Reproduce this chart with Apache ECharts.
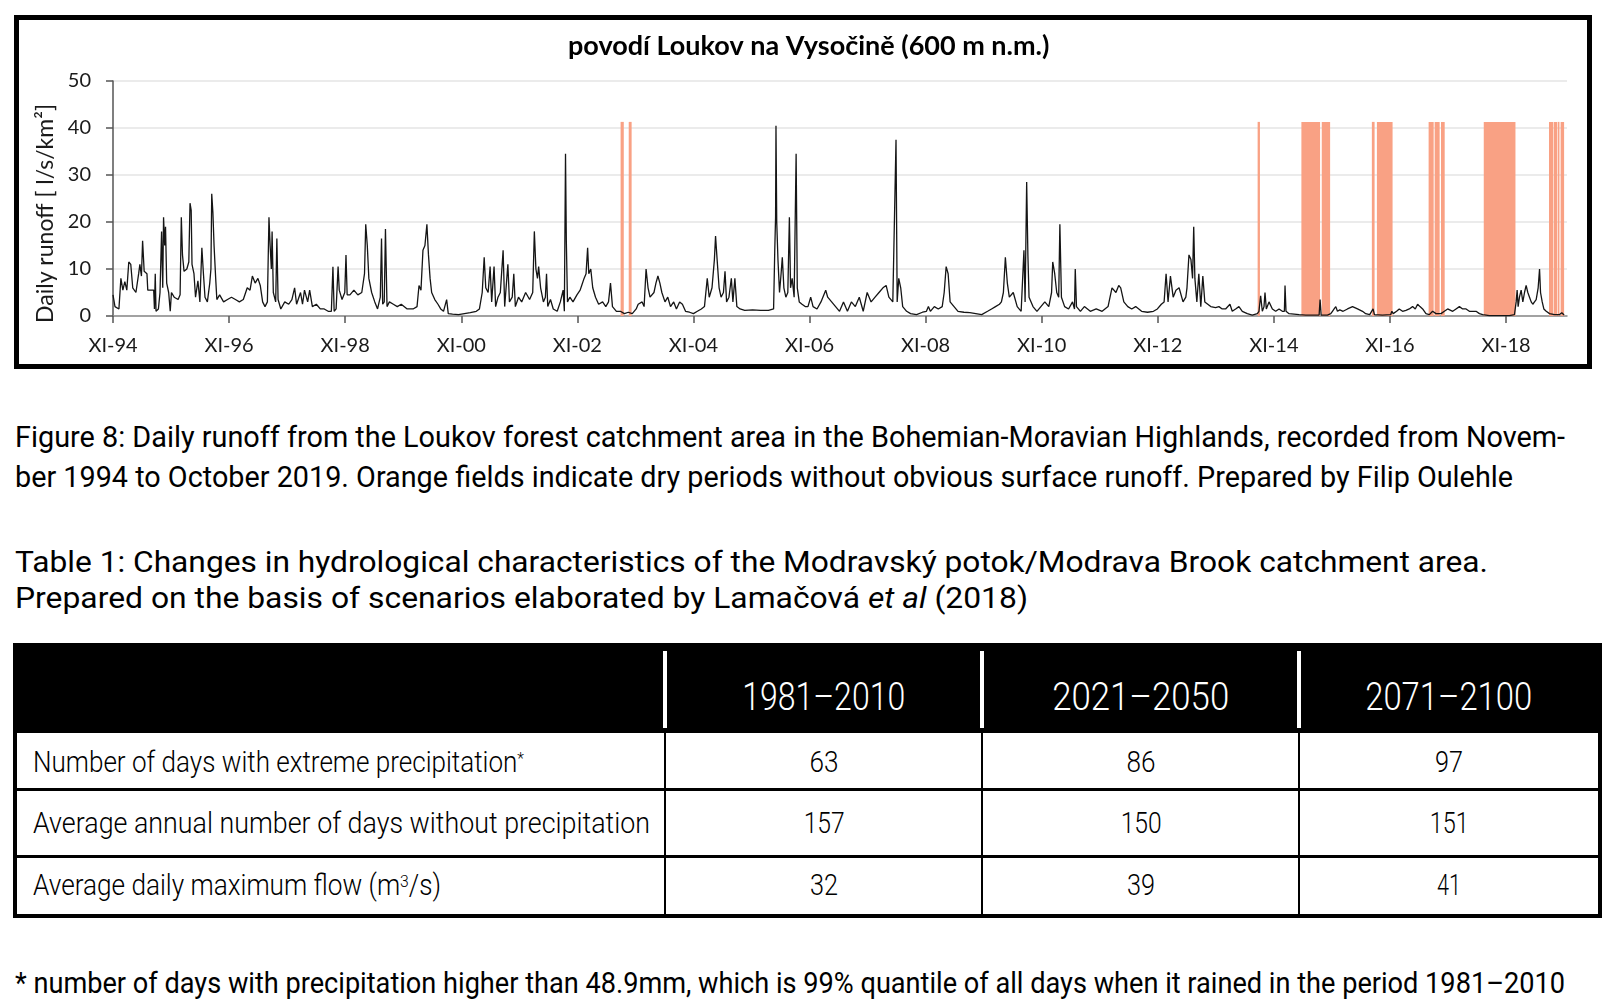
<!DOCTYPE html>
<html><head><meta charset="utf-8">
<script src="https://cdn.jsdelivr.net/npm/echarts@6/dist/echarts.min.js"></script>
<style>
html,body{margin:0;padding:0;background:#fff;}
body{width:1612px;height:1001px;position:relative;overflow:hidden;font-family:Roboto,sans-serif;color:#000;}
#frame{position:absolute;left:14px;top:15px;width:1578px;height:354px;border:5px solid #000;box-sizing:border-box;}
#chart{position:absolute;left:0;top:0;width:1568px;height:344px;}
.t{position:absolute;white-space:nowrap;line-height:40px;height:40px;display:inline-block;}
.cap{font-family:Roboto,sans-serif;font-size:29px;font-weight:400;}
.tcell{font-family:Roboto,sans-serif;font-size:29px;font-weight:300;}
.hcell{font-family:Roboto,sans-serif;font-size:38px;font-weight:300;color:#fff;line-height:50px;height:50px;}
.blk{position:absolute;background:#000;}
.wht{position:absolute;background:#fff;}
sup{font-size:60%;vertical-align:top;position:relative;top:-4px;}
</style></head>
<body>
<div id="frame"><div id="chart"></div></div>

<div class="t cap" style="left:15px;top:417px" data-w="1550" id="figL1"></div>
<div class="t cap" style="left:15px;top:457px" data-w="1498" id="figL2"></div>
<div class="t cap" style="left:15px;top:542px" data-w="1473" id="tabL1"></div>
<div class="t cap" style="left:15px;top:578px" data-w="1013" id="tabL2"></div>
<div id="table"></div>
<div class="t cap" style="left:15px;top:963px" data-w="1550" id="foot"></div>

<script>
// ---------- chart data (years since XI-1994, daily runoff l/s/km2) ----------
const xTickValues = [0, 2, 4, 6, 8, 10, 12, 14, 16, 18, 20, 22, 24];
const xTickLabels = ['XI-94','XI-96','XI-98','XI-00','XI-02','XI-04','XI-06','XI-08','XI-10','XI-12','XI-14','XI-16','XI-18'];

const runoff1994_1999 = [[0,4.5],[0.034,2],[0.102,1.5],[0.136,8],[0.17,5.5],[0.204,7.3],[0.238,5.5],[0.272,11.5],[0.306,11],[0.34,6],[0.395,5],[0.442,9],[0.463,11],[0.49,8.5],[0.51,16],[0.537,9.5],[0.585,9],[0.599,5.5],[0.701,5.5],[0.714,1.5],[0.728,9],[0.741,1],[0.782,1.5],[0.81,5],[0.837,18],[0.857,6],[0.871,21],[0.891,15],[0.905,19],[0.925,7],[0.959,5],[0.986,1],[1.007,5],[1.054,4],[1.122,3.5],[1.156,4.5],[1.177,21],[1.197,13],[1.224,9.5],[1.272,10],[1.306,11.5],[1.327,24],[1.347,22.5],[1.361,11],[1.395,9],[1.422,4],[1.463,7.5],[1.497,3],[1.531,14.5],[1.558,9],[1.585,4],[1.626,3],[1.667,7],[1.687,10],[1.701,26],[1.721,22],[1.741,15],[1.769,8],[1.789,3.5],[1.837,4.5],[1.905,3],[1.973,3.5],[2.041,4],[2.109,3.5],[2.177,3],[2.245,3.5],[2.313,6],[2.361,5.5],[2.401,8.5],[2.449,7],[2.497,8],[2.537,6.5],[2.578,3],[2.619,2],[2.66,3],[2.687,21],[2.707,15],[2.728,10],[2.741,18],[2.762,5],[2.803,3],[2.823,16.5],[2.844,3.5],[2.891,1.5],[2.959,3],[3.027,2.5],[3.082,3.5],[3.129,6],[3.163,2.5],[3.231,5],[3.265,2.5],[3.299,5.5],[3.354,3],[3.388,5.5],[3.435,2],[3.503,2.5],[3.571,1.5],[3.639,1.5],[3.707,1],[3.762,1],[3.789,10.5],[3.81,1],[3.844,1.5],[3.878,10.5],[3.898,5.5],[3.946,3.5],[3.993,5],[4.014,13],[4.034,4.5],[4.082,4.5],[4.15,5.5],[4.218,4.5],[4.286,5],[4.333,9],[4.354,19.5],[4.381,15],[4.408,8],[4.456,5],[4.51,3],[4.558,1.5],[4.605,4],[4.626,16.5],[4.646,2.5],[4.673,3],[4.694,18.5],[4.721,2],[4.762,3],[4.83,2.5],[4.898,2],[4.966,2.5]];

const runoff1999_2004 = [[5.068,1.5],[5.17,1.5],[5.238,2],[5.272,6.5],[5.306,5.5],[5.34,14],[5.374,15],[5.408,19.5],[5.435,13],[5.463,8],[5.49,5],[5.544,3.5],[5.599,2.5],[5.646,1.5],[5.694,1],[5.748,3.5],[5.776,0.5],[5.85,0.4],[5.952,0.3],[6.054,0.5],[6.156,0.7],[6.259,1],[6.313,1.5],[6.361,5],[6.395,12.5],[6.422,6],[6.463,5],[6.497,10.5],[6.524,3],[6.565,10.5],[6.592,2],[6.633,4],[6.673,5],[6.721,14],[6.748,2],[6.803,11],[6.83,3],[6.878,4],[6.905,9],[6.932,2],[6.986,4],[7.041,3],[7.109,5],[7.177,3.5],[7.231,5],[7.259,18],[7.286,10],[7.313,8],[7.333,10.5],[7.367,6],[7.415,3],[7.449,4],[7.469,9],[7.49,2],[7.537,3.5],[7.585,1.5],[7.653,1],[7.707,3],[7.755,5.5],[7.776,1],[7.796,34.5],[7.81,16],[7.83,3],[7.871,4],[7.925,3],[7.993,4.5],[8.048,5.5],[8.075,6.5],[8.116,8],[8.15,9],[8.177,14.5],[8.197,9],[8.231,10],[8.265,6],[8.313,4],[8.367,2.5],[8.435,3],[8.49,2],[8.537,3],[8.571,7],[8.605,2],[8.673,1],[8.741,1],[8.81,0.5],[8.878,0.8],[8.946,0.5],[9.014,1.5],[9.048,2.5],[9.116,3],[9.15,2],[9.184,10],[9.218,6],[9.252,4],[9.32,5],[9.354,7],[9.388,8.5],[9.422,7],[9.456,5],[9.51,3],[9.558,4],[9.605,2],[9.66,3],[9.707,1.5],[9.762,3],[9.81,2.5],[9.864,1],[9.932,0.8]];

const runoff2004_2009 = [[10,0.5],[10.068,1],[10.136,1.5],[10.19,2],[10.238,8],[10.272,4],[10.32,6],[10.361,12],[10.381,17],[10.408,12],[10.442,6],[10.476,4],[10.517,5],[10.544,9.5],[10.571,3],[10.612,4],[10.653,8],[10.68,3],[10.714,8],[10.748,2],[10.803,1.5],[10.884,1.2],[11.02,1.3],[11.156,1.2],[11.293,1.2],[11.381,1.5],[11.401,14],[11.415,21],[11.422,40.5],[11.435,20],[11.456,12],[11.483,5],[11.51,9],[11.531,12.5],[11.558,6],[11.592,4],[11.626,5],[11.653,21],[11.673,6],[11.701,8],[11.735,4],[11.769,34.5],[11.789,6],[11.823,3],[11.871,2.5],[11.925,2],[11.973,2],[12.02,4],[12.061,2],[12.129,1.5],[12.197,3],[12.279,5.5],[12.313,4],[12.381,3],[12.449,2],[12.517,1],[12.585,3],[12.653,1],[12.721,3],[12.789,2],[12.857,4],[12.925,1],[12.993,5],[13.061,3],[13.129,4],[13.197,5],[13.265,6],[13.32,6.5],[13.367,4],[13.435,3],[13.469,3],[13.49,37.5],[13.51,3],[13.537,8],[13.571,6],[13.605,2],[13.673,1],[13.741,0.5],[13.844,0.3],[13.946,0.8],[14.014,1],[14.048,2],[14.082,1],[14.15,2],[14.218,1.5],[14.286,2],[14.32,5],[14.354,10.5],[14.388,9],[14.422,3],[14.49,2],[14.558,1],[14.66,0.8],[14.762,0.7],[14.864,0.5],[14.966,0.3]];

const runoff2009_2014 = [[15.068,1],[15.136,1.5],[15.204,2],[15.272,2.5],[15.306,3],[15.34,5],[15.374,12.5],[15.408,7],[15.442,4],[15.51,5],[15.578,2],[15.646,1],[15.694,14],[15.714,3],[15.741,28.5],[15.762,13],[15.782,4],[15.85,2],[15.918,1],[15.986,2],[16.054,3],[16.122,2],[16.17,5],[16.19,11.5],[16.224,9],[16.259,5],[16.293,4],[16.313,19.5],[16.34,4],[16.395,2],[16.463,1.5],[16.531,3],[16.565,1.5],[16.578,10],[16.599,2],[16.667,1],[16.735,2],[16.837,1],[16.939,1.5],[17.041,1],[17.143,2],[17.211,6],[17.279,5],[17.327,6.5],[17.361,6],[17.415,3],[17.483,2],[17.551,1.5],[17.619,2],[17.721,1],[17.823,0.8],[17.925,1],[17.993,1.5],[18.061,2.5],[18.109,3],[18.143,9],[18.177,3],[18.218,8.5],[18.265,4],[18.313,5.5],[18.367,6],[18.435,3],[18.483,4],[18.503,6],[18.537,13],[18.571,12],[18.599,8],[18.619,19],[18.639,8],[18.673,3],[18.707,9],[18.741,2],[18.776,8.5],[18.81,3],[18.844,3],[18.912,2],[18.995,1.8],[19.053,2],[19.11,1.5],[19.168,1.5],[19.243,2.5],[19.283,1],[19.341,1.5],[19.398,2],[19.456,1],[19.542,0.5],[19.628,0.2],[19.715,0.5],[19.743,1],[19.772,4.3],[19.801,1],[19.83,2],[19.847,5],[19.87,1.5],[19.916,3],[19.974,1.5]];

const runoff2014_2019 = [[20.031,1],[20.089,1.5],[20.146,1],[20.181,1],[20.192,6.5],[20.209,1],[20.261,0.5],[20.348,0.4],[20.434,0.3],[20.549,0.2],[20.664,0.2],[20.779,0.2],[20.796,3.5],[20.814,0.2],[20.923,0.2],[20.98,0.5],[21.009,1],[21.038,1.5],[21.067,2],[21.095,1],[21.136,1.3],[21.193,1],[21.268,1.5],[21.355,2],[21.441,1.5],[21.527,1],[21.582,0.5],[21.651,0.3],[21.709,1.5],[21.732,0.3],[21.87,0.2],[22.013,0.3],[22.033,1],[22.056,0.5],[22.114,1],[22.16,1.5],[22.217,1],[22.275,1.2],[22.333,1.5],[22.39,2],[22.436,1.5],[22.476,2.5],[22.517,2],[22.563,1.5],[22.62,0.5],[22.678,0.3],[22.735,1],[22.793,0.5],[22.822,0.8],[22.879,0.5],[22.937,1],[22.994,1.5],[23.081,1],[23.138,1.5],[23.196,2],[23.253,1.5],[23.311,1.5],[23.368,1],[23.426,1],[23.483,1],[23.541,0.5],[23.598,0.3],[23.713,0.1],[23.886,0.1],[24.059,0.1],[24.145,0.3],[24.174,3],[24.191,5.5],[24.208,2],[24.231,4],[24.26,5.5],[24.289,3],[24.318,5],[24.346,6.5],[24.375,5],[24.404,4],[24.433,3],[24.461,2.5],[24.49,3],[24.519,3.5],[24.553,6],[24.577,10],[24.594,5],[24.623,3],[24.651,1.5],[24.692,1],[24.749,0.5],[24.836,0.3],[24.922,0.3],[24.96,0.7],[25.0,0.2]];

// dry periods (orange fields)
const dryStart = [8.745, 8.885, 19.72, 20.474, 20.825, 21.688, 21.775, 22.666, 22.77, 22.879, 23.616, 24.74, 24.82, 24.89, 24.94];
const dryEnd   = [8.80,  8.935, 19.76, 20.796, 20.969, 21.735, 22.045, 22.753, 22.856, 22.943, 24.162, 24.81, 24.88, 24.92, 25.0];
const dryTop = 41.3;

// ---------- texts & table ----------
const figCaption = ['Figure 8: Daily runoff from the Loukov forest catchment area in the Bohemian-Moravian Highlands, recorded from Novem-',
                    'ber 1994 to October 2019. Orange fields indicate dry periods without obvious surface runoff. Prepared by Filip Oulehle'];
const tabCaption = ['Table 1: Changes in hydrological characteristics of the Modravský potok/Modrava Brook catchment area.',
                    'Prepared on the basis of scenarios elaborated by Lamačová <i>et al</i> (2018)'];
const footnote = '* number of days with precipitation higher than 48.9mm, which is 99% quantile of all days when it rained in the period 1981–2010';
const periods = ['1981–2010', '2021–2050', '2071–2100'];
const rowLabels = ['Number of days with extreme precipitation<sup>*</sup>', 'Average annual number of days without precipitation', 'Average daily maximum flow (m<sup>3</sup>/s)'];
const extremeDays = [63, 86, 97];
const dryDays = [157, 150, 151];
const maxFlow = [32, 39, 41];

// ---------- chart ----------
const runoff = runoff1994_1999.concat(runoff1999_2004, runoff2004_2009, runoff2009_2014, runoff2014_2019);
const chart = echarts.init(document.getElementById('chart'));
const lab = {fontFamily: 'Lato', fontSize: 20, color: '#1a1a1a'};
chart.setOption({
  animation: false,
  title: {text: 'povodí Loukov na Vysočině (600 m n.m.)', left: 544, top: 8,
          textStyle: {fontFamily: 'Lato', fontWeight: 'bold', fontSize: 27, color: '#000'}},
  grid: {left: 94, right: 20, top: 61, bottom: 48},
  xAxis: {type: 'value', min: 0, max: 25.05, interval: 2,
    axisLine: {show: true, onZero: false, lineStyle: {color: '#8a8a8a', width: 1.5}},
    axisTick: {show: true, length: 7, customValues: xTickValues, lineStyle: {color: '#555', width: 1.5}},
    axisLabel: Object.assign({margin: 20, customValues: xTickValues,
      formatter: v => { const i = xTickValues.indexOf(v); return i >= 0 ? xTickLabels[i] : ''; }}, lab),
    splitLine: {show: false}},
  yAxis: {type: 'value', min: 0, max: 50, interval: 10,
    name: 'Daily runoff [ l/s/km²]', nameLocation: 'middle', nameGap: 50,
    nameTextStyle: {fontFamily: 'Lato', fontSize: 23, color: '#1a1a1a', padding: [0, 30, 0, 0]},
    axisLine: {show: true, lineStyle: {color: '#555', width: 1.5}},
    axisTick: {show: true, length: 7, lineStyle: {color: '#555', width: 1.5}},
    axisLabel: Object.assign({margin: 22}, lab),
    splitLine: {lineStyle: {color: '#e4e4e4', width: 1.5}}},
  series: [{type: 'line', data: runoff, showSymbol: false, symbol: 'none',
    lineStyle: {color: '#151515', width: 1.3}, z: 3,
    markArea: {silent: true, itemStyle: {color: '#f9a184', opacity: 1},
      data: dryStart.map((s, i) => [{xAxis: s, yAxis: 0}, {xAxis: dryEnd[i], yAxis: dryTop}])}}]
});

// ---------- HTML text ----------
document.getElementById('figL1').textContent = figCaption[0];
document.getElementById('figL2').textContent = figCaption[1];
document.getElementById('tabL1').textContent = tabCaption[0];
document.getElementById('tabL2').innerHTML = tabCaption[1];
document.getElementById('foot').textContent = footnote;

const T = document.getElementById('table');
let h = '';
h += '<div class="blk" style="left:13px;top:643px;width:1589px;height:90px"></div>';
h += '<div class="blk" style="left:13px;top:643px;width:4px;height:275px"></div>';
h += '<div class="blk" style="left:1598px;top:643px;width:4px;height:275px"></div>';
h += '<div class="blk" style="left:13px;top:914px;width:1589px;height:4px"></div>';
const colX = [665, 982, 1299];
colX.forEach(x => {
  h += '<div class="wht" style="left:' + (x - 2) + 'px;top:651px;width:4px;height:77px"></div>';
  h += '<div class="blk" style="left:' + (x - 1) + 'px;top:733px;width:2px;height:181px"></div>';
});
h += '<div class="blk" style="left:13px;top:788px;width:1589px;height:2.5px"></div>';
h += '<div class="blk" style="left:13px;top:855px;width:1589px;height:2.5px"></div>';
const colC = [824, 1141, 1449];
const hW = [163, 177, 167];
periods.forEach((p, i) => {
  h += '<div class="t hcell" data-c="' + colC[i] + '" data-w="' + hW[i] + '" style="top:672px">' + p + '</div>';
});
const rowY = [742, 803, 865];
const rowW = [491, 617, 408];
rowLabels.forEach((r, i) => {
  h += '<div class="t tcell" data-w="' + rowW[i] + '" style="left:33px;top:' + rowY[i] + 'px">' + r + '</div>';
});
const rows = [extremeDays, dryDays, maxFlow];
const valW = [[29, 29, 28], [41, 41, 39], [28, 28, 24]];
rows.forEach((vals, r) => vals.forEach((v, c) => {
  h += '<div class="t tcell" data-c="' + colC[c] + '" data-w="' + valW[r][c] + '" style="top:' + rowY[r] + 'px">' + v + '</div>';
}));
T.innerHTML = h;

function fit() {
  document.querySelectorAll('[data-w]').forEach(el => {
    el.style.transform = 'none';
    const nat = el.getBoundingClientRect().width;
    if (!nat) return;
    const s = (+el.dataset.w) / nat;
    if (el.dataset.c !== undefined) {
      el.style.left = (+el.dataset.c - nat / 2) + 'px';
      el.style.transformOrigin = 'center center';
    } else {
      el.style.transformOrigin = 'left center';
    }
    el.style.transform = 'scaleX(' + s + ')';
  });
}
fit();
if (document.fonts && document.fonts.ready) document.fonts.ready.then(fit);
</script>
</body></html>
